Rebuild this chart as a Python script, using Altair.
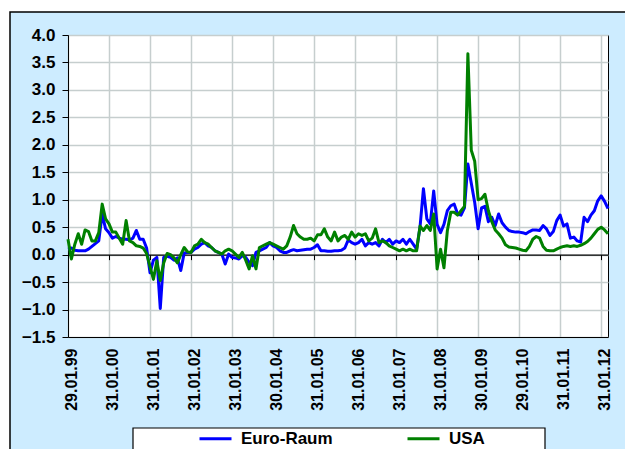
import json
import altair as alt
import pandas as pd

# Tick labels on the x axis (one per January)
tick_labels = ["29.01.99", "31.01.00", "31.01.01", "31.01.02", "31.01.03",
               "30.01.04", "31.01.05", "31.01.06", "31.01.07", "31.01.08",
               "30.01.09", "29.01.10", "31.01.11", "31.01.12"]

series_names = ["Euro-Raum", "USA"]
series_colors = ["#0000ff", "#008000"]

# Monthly values, Jan 1999 .. Mar 2012
euro = [
    0.10, 0.12, 0.08, 0.07, 0.07, 0.07, 0.10, 0.15, 0.20, 0.25, 0.74, 0.47,
    0.40, 0.30, 0.33, 0.30, 0.28, 0.28, 0.27, 0.30, 0.44, 0.28, 0.28, 0.12,
    -0.33, -0.10, -0.05, -0.98, -0.05, -0.03, -0.05, -0.10, -0.06, -0.29, 0.03, 0.04,
    0.04, 0.10, 0.13, 0.19, 0.22, 0.16, 0.13, 0.07, 0.04, 0.01, -0.17, 0.01,
    -0.05, -0.06, -0.08, -0.02, -0.05, -0.14, -0.20, 0.04, 0.07, 0.10, 0.13, 0.22,
    0.16, 0.13, 0.07, 0.04, 0.04, 0.07, 0.09, 0.07, 0.08, 0.09, 0.10, 0.10,
    0.13, 0.18, 0.07, 0.07, 0.06, 0.06, 0.07, 0.07, 0.08, 0.12, 0.27, 0.22,
    0.19, 0.22, 0.28, 0.16, 0.22, 0.19, 0.22, 0.16, 0.28, 0.22, 0.28, 0.19,
    0.25, 0.22, 0.28, 0.19, 0.28, 0.19, 0.10, 0.50, 1.20, 0.65, 0.56, 1.16,
    0.55, 0.40, 0.55, 0.80, 0.89, 0.92, 0.74, 0.72, 0.85, 1.65, 1.30, 0.95,
    0.47, 0.85, 0.88, 0.60, 0.68, 0.53, 0.74, 0.58, 0.50, 0.44, 0.42, 0.41,
    0.41, 0.40, 0.38, 0.42, 0.45, 0.45, 0.44, 0.53, 0.47, 0.35, 0.42, 0.62,
    0.72, 0.52, 0.56, 0.30, 0.32, 0.25, 0.23, 0.68, 0.60, 0.72, 0.80, 0.98,
    1.07, 0.97, 0.84,
]
usa = [
    0.28, -0.08, 0.19, 0.38, 0.19, 0.45, 0.42, 0.25, 0.25, 0.40, 0.92, 0.65,
    0.56, 0.41, 0.41, 0.30, 0.19, 0.62, 0.25, 0.22, 0.16, 0.15, 0.12, 0.02,
    -0.22, -0.45, -0.11, -0.47, -0.15, 0.02, 0.00, -0.06, -0.15, 0.00, 0.13, 0.05,
    0.04, 0.16, 0.19, 0.28, 0.22, 0.19, 0.13, 0.07, 0.04, 0.01, 0.07, 0.10,
    0.07, 0.01, -0.05, 0.04, -0.10, -0.26, -0.02, -0.26, 0.13, 0.16, 0.19, 0.22,
    0.19, 0.16, 0.13, 0.10, 0.16, 0.32, 0.53, 0.38, 0.32, 0.28, 0.28, 0.30,
    0.25, 0.36, 0.36, 0.47, 0.32, 0.25, 0.41, 0.25, 0.32, 0.35, 0.28, 0.41,
    0.32, 0.38, 0.35, 0.38, 0.25, 0.30, 0.47, 0.22, 0.25, 0.22, 0.16, 0.13,
    0.10, 0.07, 0.10, 0.07, 0.10, 0.07, 0.07, 0.52, 0.44, 0.53, 0.44, 0.74,
    -0.26, 0.10, -0.24, 0.44, 0.77, 0.77, 0.72, 0.80, 0.88, 3.66, 1.90, 1.70,
    1.00, 1.02, 1.10, 0.80, 0.60, 0.45, 0.38, 0.30, 0.18, 0.14, 0.13, 0.12,
    0.10, 0.08, 0.07, 0.15, 0.28, 0.33, 0.30, 0.15, 0.08, 0.07, 0.07, 0.10,
    0.13, 0.15, 0.16, 0.15, 0.16, 0.15, 0.17, 0.20, 0.24, 0.30, 0.38, 0.46,
    0.50, 0.45, 0.38,
]

y_ticks = [-1.5, -1.0, -0.5, 0.0, 0.5, 1.0, 1.5, 2.0, 2.5, 3.0, 3.5, 4.0]

n = len(euro)
tick_vals = [12 * i for i in range(len(tick_labels))]
label_expr = json.dumps(tick_labels) + "[round(datum.value / 12)]"

W, H = 540, 302
y_min, y_max = y_ticks[0], y_ticks[-1]
zero_offset = -H * (0 - y_min) / (y_max - y_min)

FONT = "Liberation Sans"
GRID = "#c6cece"

df = pd.DataFrame({"m": list(range(n)), series_names[0]: euro, series_names[1]: usa})
long = df.melt("m", var_name="Serie", value_name="Wert")

xscale = alt.Scale(domain=[0, n - 1], nice=False, zero=False)
yscale = alt.Scale(domain=[y_min, y_max], nice=False, zero=False)

y_enc = alt.Y("Wert:Q", scale=yscale,
              axis=alt.Axis(values=y_ticks, format=".1f", title=None,
                            labelFont=FONT, labelFontSize=17, labelFontWeight="bold",
                            labelColor="black", labelPadding=7, labelFlush=False,
                            labelOverlap=False, tickSize=6, tickColor="black",
                            domainColor="black", domainWidth=1,
                            gridColor=GRID, gridWidth=1.5))

color_enc = alt.Color("Serie:N",
                      scale=alt.Scale(domain=series_names, range=series_colors),
                      legend=alt.Legend(orient="none", legendX=130, legendY=386,
                                        direction="horizontal", title=None,
                                        symbolType="stroke", symbolSize=1024,
                                        symbolStrokeWidth=3, labelFont=FONT,
                                        labelFontSize=17, labelFontWeight="bold",
                                        labelColor="black", labelOffset=8,
                                        columnPadding=68, padding=0))

x_main = alt.X("m:Q", scale=xscale,
               axis=alt.Axis(orient="bottom", values=tick_vals, labelExpr=label_expr,
                             title=None, labelAngle=270, labelAlign="right",
                             labelBaseline="middle", labelPadding=11, labelOffset=3,
                             labelFont=FONT, labelFontSize=16, labelFontWeight="bold",
                             labelColor="black", labelFlush=False, labelOverlap=False,
                             ticks=False, tickSize=0, grid=True, gridColor=GRID,
                             gridWidth=1.5, domainColor="black", domainWidth=1))

x_zero = alt.X("m:Q", scale=xscale,
               axis=alt.Axis(orient="bottom", values=tick_vals, labels=False,
                             title=None, ticks=True, tickSize=5, tickColor="black",
                             tickWidth=1, grid=False, domainColor="black",
                             domainWidth=1.2, offset=zero_offset))

blue = alt.Chart(long).transform_filter(
    alt.datum.Serie == series_names[0]
).mark_line(strokeWidth=3, strokeJoin="round").encode(x=x_main, y=y_enc, color=color_enc)

green = alt.Chart(long).transform_filter(
    alt.datum.Serie == series_names[1]
).mark_line(strokeWidth=3, strokeJoin="round").encode(x=x_zero, y=y_enc, color=color_enc)

one = pd.DataFrame({"k": [0]})
white_strip = alt.Chart(one).mark_rect(fill="transparent", stroke="white", strokeWidth=10).encode(
    x=alt.value(-63), x2=alt.value(1000), y=alt.value(-28), y2=alt.value(1000))
frame = alt.Chart(one).mark_rect(fill="transparent", stroke="black", strokeWidth=1.5).encode(
    x=alt.value(-58), x2=alt.value(1000), y=alt.value(-23), y2=alt.value(1000))
legend_box = alt.Chart(one).mark_rect(fill="white", stroke="black", strokeWidth=1.2).encode(
    x=alt.value(65), x2=alt.value(477), y=alt.value(393), y2=alt.value(480))

chart = alt.layer(white_strip, frame, legend_box, blue, green).resolve_axis(
    x="independent"
).properties(
    width=W, height=H,
    autosize=alt.AutoSizeParams(type="none"),
    padding={"left": 60, "top": 27, "right": 17, "bottom": 112},
    background="#cdecff",
).configure_view(fill="white", stroke="black", strokeWidth=1)

chart.save("out.html", embed_options={"renderer": "svg", "actions": False})
